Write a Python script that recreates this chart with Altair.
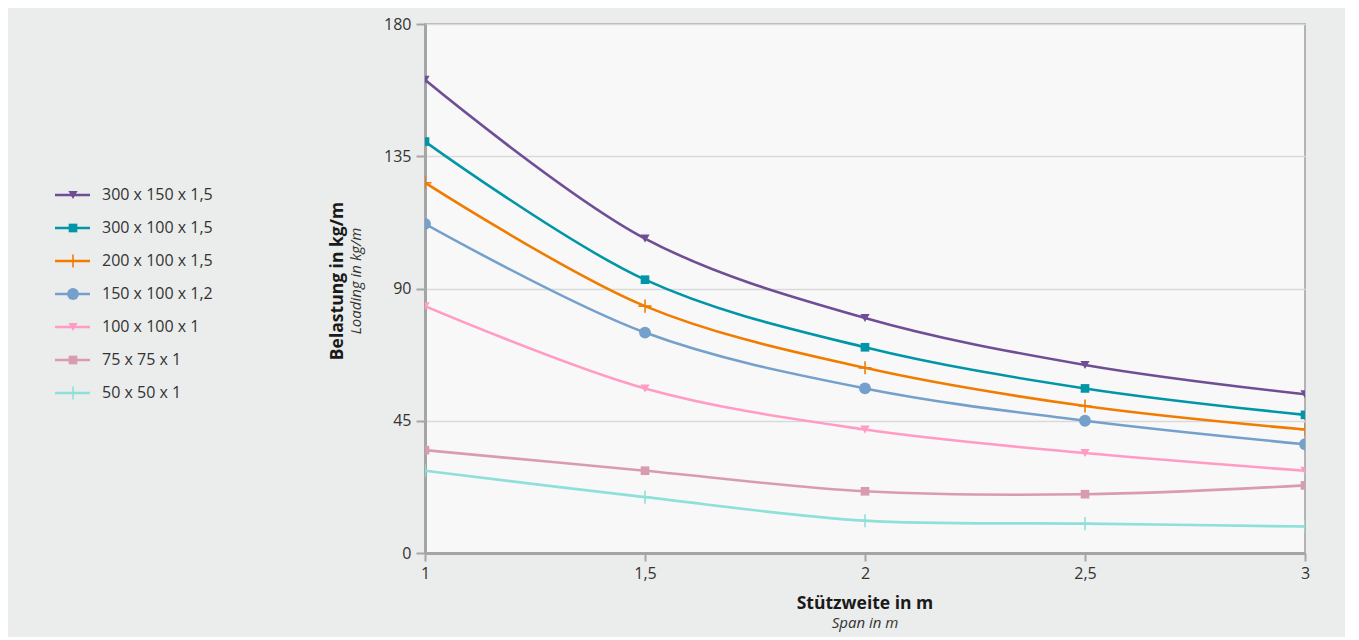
import altair as alt
import pandas as pd

series = ["300 x 150 x 1,5", "300 x 100 x 1,5", "200 x 100 x 1,5",
          "150 x 100 x 1,2", "100 x 100 x 1", "75 x 75 x 1", "50 x 50 x 1"]
spans = [1, 1.5, 2, 2.5, 3]
v_300_150 = [161, 107, 80, 64, 54]
v_300_100 = [140, 93, 70, 56, 47]
v_200_100 = [126, 84, 63, 50, 42]
v_150_100 = [112, 75, 56, 45, 37]
v_100_100 = [84, 56, 42, 34, 28]
v_75_75 = [35, 28, 21, 20, 23]
v_50_50 = [28, 19, 11, 10, 9]
all_vals = [v_300_150, v_300_100, v_200_100, v_150_100, v_100_100, v_75_75, v_50_50]
y_ticks = [0, 45, 90, 135, 180]

colors = ["#6f4e95", "#0096a8", "#f07c00", "#74a0cb", "#ff9bc4", "#d99bb1", "#8fe0d8"]
plus = "M-1,-0.12H1V0.12H-1Z M-0.12,-1H0.12V1H-0.12Z"
marker_groups = [
    ("triangle-down", 85, ["300 x 150 x 1,5", "100 x 100 x 1"]),
    ("square", 75, ["300 x 100 x 1,5", "75 x 75 x 1"]),
    ("circle", 140, ["150 x 100 x 1,2"]),
    (plus, 170, ["200 x 100 x 1,5", "50 x 50 x 1"]),
]

rows = []
for s, vals in zip(series, all_vals):
    for x, v in zip(spans, vals):
        rows.append({"series": s, "span": x, "load": v})
df = pd.DataFrame(rows)

FONT = "Open Sans"
color_enc = alt.Color("series:N", scale=alt.Scale(domain=series, range=colors), legend=None)

x_enc = alt.X("span:Q", scale=alt.Scale(domain=[1, 3], nice=False),
              axis=alt.Axis(values=spans, format="~g", labelExpr="replace(datum.label, '.', ',')",
                            title=None, grid=False, domainColor="#a5a5a5", domainWidth=3,
                            tickColor="#a5a5a5", tickWidth=2, tickSize=8, labelPadding=4,
                            labelFlush=False,
                            labelFont=FONT, labelFontSize=16, labelColor="#333333", zindex=1))
y_enc = alt.Y("load:Q", scale=alt.Scale(domain=[0, 180], nice=False),
              axis=alt.Axis(values=y_ticks, title=None, grid=True, gridColor="#d9d9d9", gridWidth=1.5,
                            domainColor="#a5a5a5", domainWidth=3, tickColor="#a5a5a5", tickWidth=2,
                            tickSize=9, labelPadding=5, labelFlush=False, labelFont=FONT,
                            labelFontSize=16, labelColor="#333333"))

base = alt.Chart(df)
lines = base.mark_line(interpolate="catmull-rom", strokeWidth=2.6, clip=True).encode(
    x=x_enc, y=y_enc, color=color_enc, detail="series:N")
point_layers = []
for shp, sz, members in marker_groups:
    point_layers.append(
        base.transform_filter(alt.FieldOneOfPredicate(field="series", oneOf=members))
        .mark_point(filled=True, opacity=1, clip=True, shape=shp, size=sz)
        .encode(x="span:Q", y="load:Q", color=color_enc)
    )
main = alt.layer(lines, *point_layers)

# legend drawn from the series list through a linear row scale
leg_df = pd.DataFrame({"series": series, "row": list(range(len(series)))})
leg_y = alt.Y("row:Q", scale=alt.Scale(domain=[0, len(series) - 1], range=[171, 369], nice=False,
                                       zero=False), axis=None)
leg_base = alt.Chart(leg_df)
leg_rule = leg_base.mark_rule(strokeWidth=2.6).encode(
    x=alt.value(-370), x2=alt.value(-335), y=leg_y, color=color_enc)
leg_pts = []
for shp, sz, members in marker_groups:
    leg_pts.append(
        leg_base.transform_filter(alt.FieldOneOfPredicate(field="series", oneOf=members))
        .mark_point(filled=True, opacity=1, shape=shp, size=sz)
        .encode(x=alt.value(-352), y=leg_y, color=color_enc)
    )
leg_txt = leg_base.mark_text(align="left", baseline="middle", font=FONT, fontSize=16,
                             color="#333333").encode(x=alt.value(-323), y=leg_y, text="series:N")
legend = alt.layer(leg_rule, *leg_pts, leg_txt)

# axis titles
ytitle1 = alt.Chart(pd.DataFrame({"t": ["Belastung in kg/m"]})).mark_text(
    angle=270, font=FONT, fontSize=17.5, fontWeight="bold", color="#1a1a1a", baseline="middle"
).encode(text="t:N", x=alt.value(-87), y=alt.value(257))
ytitle2 = alt.Chart(pd.DataFrame({"t": ["Loading in kg/m"]})).mark_text(
    angle=270, font=FONT, fontSize=15, fontStyle="italic", color="#333333", baseline="middle"
).encode(text="t:N", x=alt.value(-69), y=alt.value(257))
xtitle1 = alt.Chart(pd.DataFrame({"t": ["Stützweite in m"]})).mark_text(
    font=FONT, fontSize=17.5, fontWeight="bold", color="#1a1a1a", baseline="middle"
).encode(text="t:N", x=alt.value(440), y=alt.value(580))
xtitle2 = alt.Chart(pd.DataFrame({"t": ["Span in m"]})).mark_text(
    font=FONT, fontSize=15, fontStyle="italic", color="#333333", baseline="middle"
).encode(text="t:N", x=alt.value(440), y=alt.value(599))

chart = alt.layer(main, legend, ytitle1, ytitle2, xtitle1, xtitle2).resolve_scale(
    y="independent"
).properties(
    width=880, height=529,
    autosize=alt.AutoSizeParams(type="none"),
    padding={"left": 417, "top": 16, "right": 40, "bottom": 84},
    background="#ebedec",
).configure_view(
    fill="#f8f8f8", stroke="#b3b3b3", strokeWidth=2
)

chart.save("out.html", embed_options={"renderer": "svg", "actions": False})
